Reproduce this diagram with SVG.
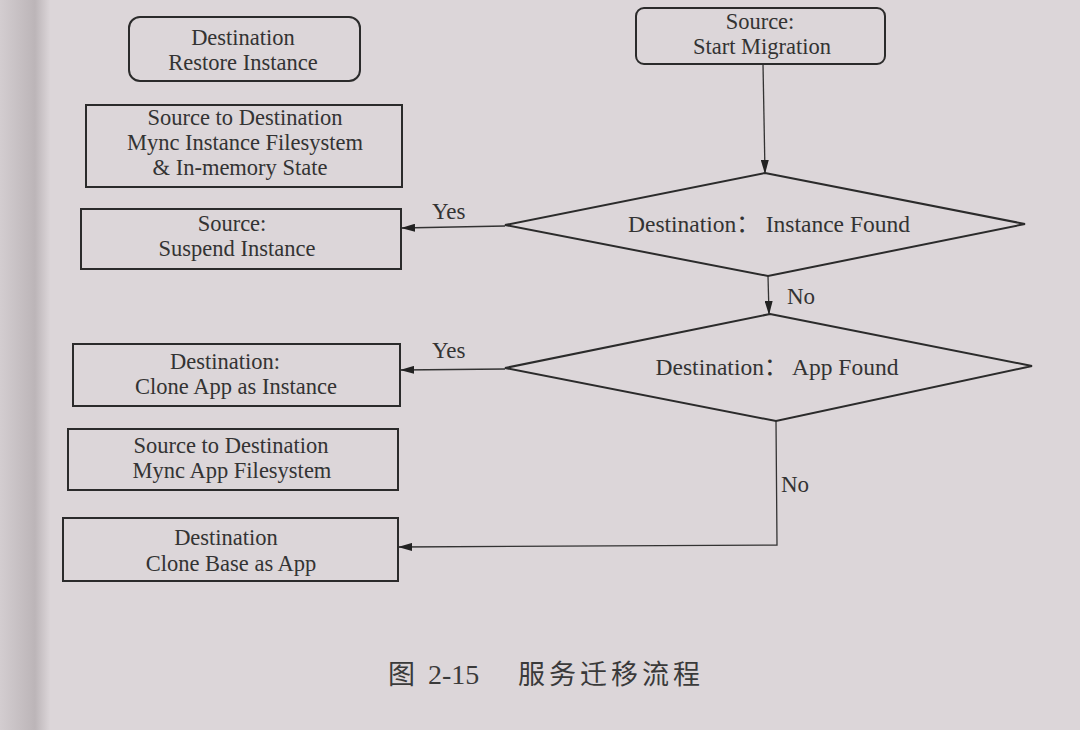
<svg xmlns="http://www.w3.org/2000/svg" width="1080" height="730" viewBox="0 0 1080 730">
<defs>
<style>
.node rect,.node polygon{fill:none;stroke:#2b2b2b;stroke-width:2}
.node text,.lbl{font-family:"Liberation Serif","Noto Sans CJK SC",serif;font-size:22.5px;fill:#333;text-anchor:middle}
.node text.d{font-size:23.5px}
.lbl{text-anchor:start;font-size:23px}
#connectors path{fill:none;stroke:#333;stroke-width:1.3}
.cap{font-family:"Noto Sans CJK SC","Liberation Serif",serif;font-size:27px;fill:#3a3a3a}
</style>
<marker id="ah" viewBox="0 0 14 8" refX="13" refY="4" markerWidth="14" markerHeight="8" markerUnits="userSpaceOnUse" orient="auto">
<path d="M0,0 L14,4 L0,8 Z" fill="#222"/>
</marker>
<linearGradient id="gut" x1="0" x2="1" y1="0" y2="0">
<stop offset="0" stop-color="#d3cdd0"/>
<stop offset="0.7" stop-color="#bcb5b8"/>
<stop offset="1" stop-color="#dbd5d8"/>
</linearGradient>
</defs>
<rect x="0" y="0" width="1080" height="730" fill="#dcd6d9"/>
<rect x="0" y="0" width="50" height="730" fill="url(#gut)"/>

<g id="connectors">
<path d="M763,64 L765,173" marker-end="url(#ah)"/>
<path d="M505,226 L402,228" marker-end="url(#ah)"/>
<path d="M768,276 L769,314" marker-end="url(#ah)"/>
<path d="M505,369 L401,370" marker-end="url(#ah)"/>
<path d="M776,421 L777,545 L399,547" marker-end="url(#ah)"/>
<text class="lbl" x="432" y="219">Yes</text>
<text class="lbl" x="787" y="304">No</text>
<text class="lbl" x="432" y="358">Yes</text>
<text class="lbl" x="781" y="492">No</text>
</g>

<g id="n-restore" class="node">
<rect x="129" y="17" width="231" height="64" rx="11"/>
<text x="243" y="45">Destination</text>
<text x="243" y="70">Restore Instance</text>
</g>
<g id="n-sync-instance" class="node">
<rect x="86" y="105" width="316" height="82"/>
<text x="245" y="125">Source to Destination</text>
<text x="245" y="150">Mync Instance Filesystem</text>
<text x="240" y="175">&amp; In-memory State</text>
</g>
<g id="n-suspend" class="node">
<rect x="81" y="209" width="320" height="60"/>
<text x="232" y="231">Source:</text>
<text x="237" y="256">Suspend Instance</text>
</g>
<g id="n-clone-app" class="node">
<rect x="73" y="344" width="327" height="62"/>
<text x="225" y="369">Destination:</text>
<text x="236" y="394">Clone App as Instance</text>
</g>
<g id="n-sync-app" class="node">
<rect x="68" y="429" width="330" height="61"/>
<text x="231" y="453">Source to Destination</text>
<text x="232" y="478">Mync App Filesystem</text>
</g>
<g id="n-clone-base" class="node">
<rect x="63" y="518" width="335" height="63"/>
<text x="226" y="545">Destination</text>
<text x="231" y="571">Clone Base as App</text>
</g>
<g id="n-start" class="node">
<rect x="636" y="8" width="249" height="56" rx="8"/>
<text x="760" y="29">Source:</text>
<text x="762" y="54">Start Migration</text>
</g>
<g id="n-instance-found" class="node">
<polygon points="765,173 1025,224 768,276 505,225"/>
<text class="d" x="769" y="232">Destination：  Instance Found</text>
</g>
<g id="n-app-found" class="node">
<polygon points="770,314 1032,366 776,421 505,368"/>
<text class="d" x="777" y="375">Destination：  App Found</text>
</g>

<text class="cap" x="388" y="684">图</text>
<text class="cap" x="428" y="684" style="font-family:'Liberation Serif',serif;font-size:28px">2-15</text>
<text class="cap" x="518" y="684" letter-spacing="4">服务迁移流程</text>
</svg>
